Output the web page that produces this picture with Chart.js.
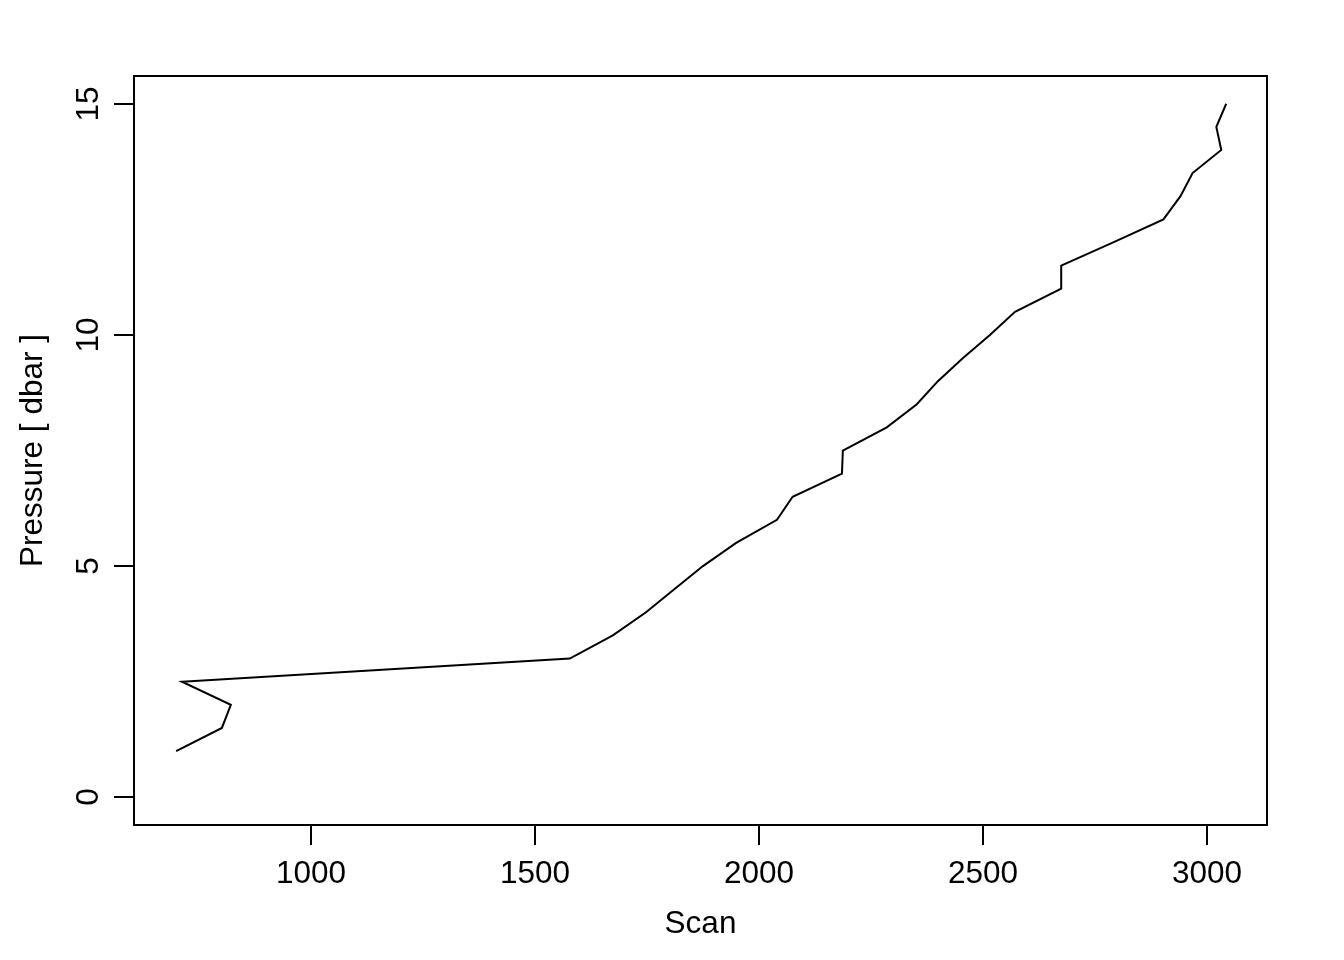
<!DOCTYPE html>
<html>
<head>
<meta charset="utf-8">
<script src="https://cdn.jsdelivr.net/npm/chart.js@4.4.1/dist/chart.umd.min.js"></script>
<style>
  html, body { margin: 0; padding: 0; background: #ffffff; }
  canvas { display: block; }
</style>
</head>
<body>
<canvas id="c" width="1344" height="960"></canvas>
<script>
// ---- data ----
const scan = [700, 802, 822, 713, 1578, 1674, 1748, 1811, 1875, 1949, 2040, 2075, 2185, 2187, 2285, 2352, 2399, 2455, 2515, 2571, 2674, 2674, 2790, 2902, 2940, 2967, 3031, 3020, 3042];
const pressure = [1, 1.5, 2, 2.5, 3, 3.5, 4, 4.5, 5, 5.5, 6, 6.5, 7, 7.5, 8, 8.5, 9, 9.5, 10, 10.5, 11, 11.5, 12, 12.5, 13, 13.5, 14, 14.5, 15];
const xTicks = [1000, 1500, 2000, 2500, 3000];
const yTicks = [0, 5, 10, 15];
const xTitle = "Scan";
const yTitle = "Pressure [ dbar ]";

const FONT = '31.5px "Liberation Sans", Arial, Helvetica, sans-serif';

const points = scan.map((s, i) => ({ x: s, y: pressure[i] }));

const axesPlugin = {
  id: 'rAxes',
  afterDraw(chart) {
    const ctx = chart.ctx;
    const a = chart.chartArea;
    const xs = chart.scales.x, ys = chart.scales.y;
    ctx.save();
    ctx.strokeStyle = '#000';
    ctx.fillStyle = '#000';
    ctx.lineWidth = 2;
    // box
    ctx.strokeRect(a.left, a.top, a.right - a.left, a.bottom - a.top);
    ctx.font = FONT;
    // x ticks
    ctx.textAlign = 'center';
    ctx.textBaseline = 'middle';
    xTicks.forEach(v => {
      const px = Math.round(xs.getPixelForValue(v));
      ctx.beginPath();
      ctx.moveTo(px, a.bottom);
      ctx.lineTo(px, a.bottom + 20);
      ctx.stroke();
      ctx.fillText(String(v), px, a.bottom + 49);
    });
    // y ticks
    yTicks.forEach(v => {
      const py = Math.round(ys.getPixelForValue(v));
      ctx.beginPath();
      ctx.moveTo(a.left, py);
      ctx.lineTo(a.left - 20, py);
      ctx.stroke();
      ctx.save();
      ctx.translate(a.left - 45, py);
      ctx.rotate(-Math.PI / 2);
      ctx.fillText(String(v), 0, 0);
      ctx.restore();
    });
    // titles
    ctx.fillText(xTitle, (a.left + a.right) / 2, a.bottom + 99);
    ctx.save();
    ctx.translate(a.left - 101, (a.top + a.bottom) / 2);
    ctx.rotate(-Math.PI / 2);
    ctx.fillText(yTitle, 0, 0);
    ctx.restore();
    ctx.restore();
  }
};

new Chart(document.getElementById('c'), {
  type: 'scatter',
  data: {
    datasets: [{
      data: points,
      showLine: true,
      borderColor: '#000000',
      borderWidth: 2,
      pointRadius: 0,
      tension: 0,
      fill: false
    }]
  },
  options: {
    responsive: false,
    devicePixelRatio: 1,
    animation: false,
    layout: { padding: { left: 134, top: 76, right: 77, bottom: 135 } },
    plugins: { legend: { display: false }, tooltip: { enabled: false } },
    scales: {
      x: { type: 'linear', min: 606, max: 3133, display: false },
      y: { type: 'linear', min: -0.6, max: 15.6, display: false }
    }
  },
  plugins: [axesPlugin]
});
</script>
</body>
</html>
